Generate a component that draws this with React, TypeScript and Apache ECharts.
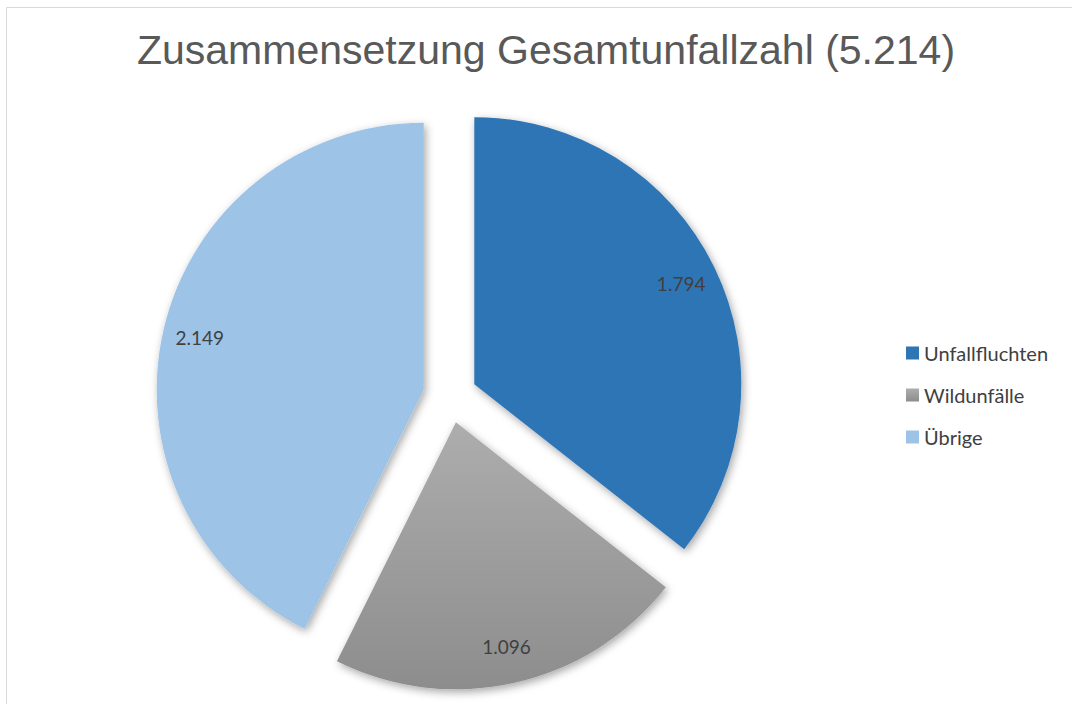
import React, { useEffect, useRef } from "react";
import * as echarts from "echarts";

const titleText = "Zusammensetzung Gesamtunfallzahl (5.214)";
const categories = ["Unfallfluchten", "Wildunfälle", "Übrige"];
const values = [1794, 1096, 2149];
const valueLabels = ["1.794", "1.096", "2.149"];

const grayGradient = new echarts.graphic.LinearGradient(0, 0, 0, 1, [
  { offset: 0, color: "#ADADAD" },
  { offset: 1, color: "#8D8D8D" },
]);
const colors = ["#2E75B6", grayGradient, "#9DC3E6"];

export default function App() {
  const ref = useRef<HTMLDivElement>(null);
  useEffect(() => {
    if (!ref.current) return;
    const chart = echarts.init(ref.current, null, { renderer: "svg" });
    const center = [450, 396];
    const radius = 267;
    const offset = 27;
    const mainData = categories.map((name, i) => ({
      name,
      value: values[i],
      selected: true,
      itemStyle: { color: colors[i] as any },
    }));
    const labelData = categories.map((name, i) => ({
      name,
      value: values[i],
      selected: true,
      label: { formatter: valueLabels[i] },
    }));
    chart.setOption({
      animation: false,
      backgroundColor: "#ffffff",
      title: {
        text: titleText,
        left: 541,
        top: 24,
        textAlign: "center",
        textStyle: {
          fontFamily: "'Liberation Sans Narrow', 'Liberation Sans', Arial, sans-serif",
          fontSize: 41,
          fontWeight: "normal",
          color: "#595959",
        },
      },
      graphic: [
        {
          type: "rect",
          shape: { x: 6.5, y: 7.5, width: 3000, height: 3000 },
          style: { fill: "none", stroke: "#D9D9D9", lineWidth: 1 },
          silent: true,
          z: -10,
        },
      ],
      legend: {
        data: categories,
        orient: "vertical",
        left: 906,
        top: 343,
        padding: 0,
        itemWidth: 13,
        itemHeight: 13,
        itemGap: 22,
        icon: "rect",
        selectedMode: false,
        textStyle: {
          fontFamily: "Lato, 'Open Sans', sans-serif",
          fontSize: 20,
          color: "#404040",
        },
      },
      series: [
        {
          type: "pie",
          center,
          radius,
          startAngle: 90,
          clockwise: true,
          selectedMode: "multiple",
          selectedOffset: offset,
          silent: true,
          label: { show: false },
          labelLine: { show: false },
          emphasis: { disabled: true },
          itemStyle: {
            shadowBlur: 8,
            shadowOffsetX: 2,
            shadowOffsetY: 3,
            shadowColor: "rgba(0,0,0,0.35)",
          },
          data: mainData,
        },
        {
          type: "pie",
          center,
          radius: [213, 241],
          startAngle: 90,
          clockwise: true,
          selectedMode: "multiple",
          selectedOffset: offset,
          silent: true,
          emphasis: { disabled: true },
          itemStyle: { color: "rgba(0,0,0,0)" },
          label: {
            show: true,
            position: "inside",
            fontFamily: "Lato, 'Open Sans', sans-serif",
            fontSize: 19,
            color: "#404040",
          },
          labelLine: { show: false },
          data: labelData,
        },
      ],
    });
    return () => chart.dispose();
  }, []);
  return (
    <div
      ref={ref}
      style={{ position: "fixed", left: 0, top: 0, width: 1072, height: 704 }}
    />
  );
}
